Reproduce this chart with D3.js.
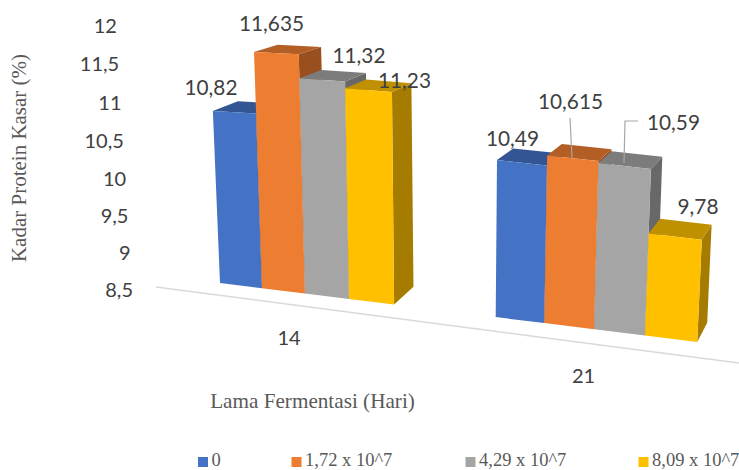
<!DOCTYPE html>
<html>
<head>
<meta charset="utf-8">
<script src="https://cdn.jsdelivr.net/npm/d3@7"></script>
<style>
html,body{margin:0;padding:0;background:#fff;overflow:hidden}
svg{display:block}
</style>
</head>
<body>
<div id="chart"></div>
<script>
// Protein content by fermentation time and inoculum level
const categories = ["14", "21"];
const seriesNames = ["0", "1,72 x 10^7", "4,29 x 10^7", "8,09 x 10^7"];
const values0 = [10.82, 10.49];
const values1 = [11.635, 10.615];
const values2 = [11.32, 10.59];
const values3 = [11.23, 9.78];
const valueLabels0 = ["10,82", "10,49"];
const valueLabels1 = ["11,635", "10,615"];
const valueLabels2 = ["11,32", "10,59"];
const valueLabels3 = ["11,23", "9,78"];
const axisTicks = [8.5, 9, 9.5, 10, 10.5, 11, 11.5, 12];
const faceColors = ["#4472C4", "#ED7D31", "#A5A5A5", "#FFC000"];
const topColors = ["#335593", "#B25E25", "#7C7C7C", "#BF9000"];
const sideColors = ["#294475", "#9A4F1E", "#686868", "#A57C00"];

const W = 739, H = 470;
const svg = d3.select("#chart").append("svg").attr("width", W).attr("height", H);

const series = [values0, values1, values2, values3];
const labels = [valueLabels0, valueLabels1, valueLabels2, valueLabels3];

// World scales: bars are one unit wide, groups are separated by a wider gap
const groupScale = d3.scaleBand().domain(categories).range([0, 10.17]).paddingInner(0.3517);
const barScale = d3.scaleBand().domain(d3.range(seriesNames.length)).range([0, groupScale.bandwidth()]);
const heightScale = d3.scaleLinear().domain([8.5, 12]).range([0, 3.5]);

// Perspective camera: foreshortens along the floor, leans verticals, converges depth
const floorX = t => 220 + 1751 * (Math.exp(0.0237 * t) - 1);
function project(t, value, depth) {
  const bx = floorX(t);
  const by = 283 + 0.1237 * (bx - 220);
  const unit = 74 + 6.5 * (1 - Math.exp(-(bx - 216) / 200));
  const h = heightScale(value) * unit;
  const x = bx + 0.00018 * (bx - 450) * h;
  const y = by - h;
  return [x + depth * (25 - 0.031 * (x - 212)), y - depth * (5 + 0.042 * y)];
}
const poly = pts => "M" + pts.map(p => p.join(",")).join("L") + "Z";

// Floor line in front of the bars
svg.append("line")
  .attr("x1", 156).attr("y1", 287).attr("x2", W).attr("y2", 363)
  .attr("stroke", "#D9D9D9").attr("stroke-width", 1.5);

// Bars, painted left to right so nearer faces overlap the farther ones
const bars = [];
categories.forEach((c, g) => {
  series.forEach((vals, s) => {
    const t0 = groupScale(c) + barScale(s);
    bars.push({ t0, t1: t0 + barScale.bandwidth(), v: vals[g], s });
  });
});
const barG = svg.append("g").selectAll("g").data(bars).join("g");
barG.append("path").attr("fill", d => sideColors[d.s]).attr("d", d => poly([
  project(d.t1, 8.5, 0), project(d.t1, d.v, 0), project(d.t1, d.v, 1), project(d.t1, 8.5, 1)]));
barG.append("path").attr("fill", d => topColors[d.s]).attr("d", d => poly([
  project(d.t0, d.v, 0), project(d.t1, d.v, 0), project(d.t1, d.v, 1), project(d.t0, d.v, 1)]));
barG.append("path").attr("fill", d => faceColors[d.s]).attr("d", d => poly([
  project(d.t0, 8.5, 0), project(d.t1, 8.5, 0), project(d.t1, d.v, 0), project(d.t0, d.v, 0)]));

// Value axis: labels follow the slanted wall of the chart
const tickScale = d3.scalePow().exponent(1.2).domain([8.5, 12]).range([289, 25]);
const tickFormat = d3.format(".1~f");
const axis = d3.axisLeft(tickScale).tickValues(axisTicks).tickSize(0)
  .tickFormat(v => tickFormat(v).replace(".", ","));
const axisG = svg.append("g").call(axis);
axisG.select(".domain").remove();
axisG.selectAll(".tick text")
  .attr("x", d => 133 - (d - 8.5) * 4.6)
  .attr("dy", "0.35em")
  .attr("text-anchor", "end")
  .attr("font-family", "Lato")
  .attr("font-size", 20)
  .attr("fill", "#404040");

// Leader lines for the two lifted labels
const leaderColor = "#A6A6A6";
svg.append("path").attr("fill", "none").attr("stroke", leaderColor).attr("stroke-width", 1.2)
  .attr("d", "M570,118L572,158");
svg.append("path").attr("fill", "none").attr("stroke", leaderColor).attr("stroke-width", 1.2)
  .attr("d", "M638,121L625,121L624,163");

// Data labels
const labelPos = [
  [[211, 88], [512.5, 139]],
  [[271.5, 24], [570.5, 102]],
  [[359, 56], [673.5, 123]],
  [[404.5, 81], [698, 207]]
];
labels.forEach((arr, s) => arr.forEach((txt, g) => {
  svg.append("text").attr("x", labelPos[s][g][0]).attr("y", labelPos[s][g][1]).attr("dy", "0.35em")
    .attr("text-anchor", "middle").attr("font-family", "Lato").attr("font-size", 20.8)
    .attr("fill", "#404040").text(txt);
}));

// Category labels
const catPos = [[289, 338], [583.5, 376]];
categories.forEach((c, i) => {
  svg.append("text").attr("x", catPos[i][0]).attr("y", catPos[i][1]).attr("dy", "0.35em")
    .attr("text-anchor", "middle").attr("font-family", "Lato").attr("font-size", 20)
    .attr("fill", "#404040").text(c);
});

// Axis titles
svg.append("text").attr("x", 312.5).attr("y", 401).attr("dy", "0.35em").attr("text-anchor", "middle")
  .attr("font-family", "Liberation Serif").attr("font-size", 21.2).attr("fill", "#595959")
  .text("Lama Fermentasi (Hari)");
svg.append("text").attr("transform", "translate(19,158) rotate(-90)").attr("dy", "0.35em")
  .attr("text-anchor", "middle").attr("font-family", "Liberation Serif").attr("font-size", 21)
  .attr("fill", "#595959").text("Kadar Protein Kasar (%)");

// Legend
const legendX = [198, 291.5, 465.5, 638.5];
const legend = svg.append("g").selectAll("g").data(seriesNames).join("g")
  .attr("transform", (d, i) => `translate(${legendX[i]},457)`);
legend.append("rect").attr("width", 10).attr("height", 10).attr("fill", (d, i) => faceColors[i]);
legend.append("text").attr("x", 13.5).attr("y", 9).attr("font-family", "Liberation Serif")
  .attr("font-size", 18.5).attr("fill", "#595959").text(d => d);
</script>
</body>
</html>
